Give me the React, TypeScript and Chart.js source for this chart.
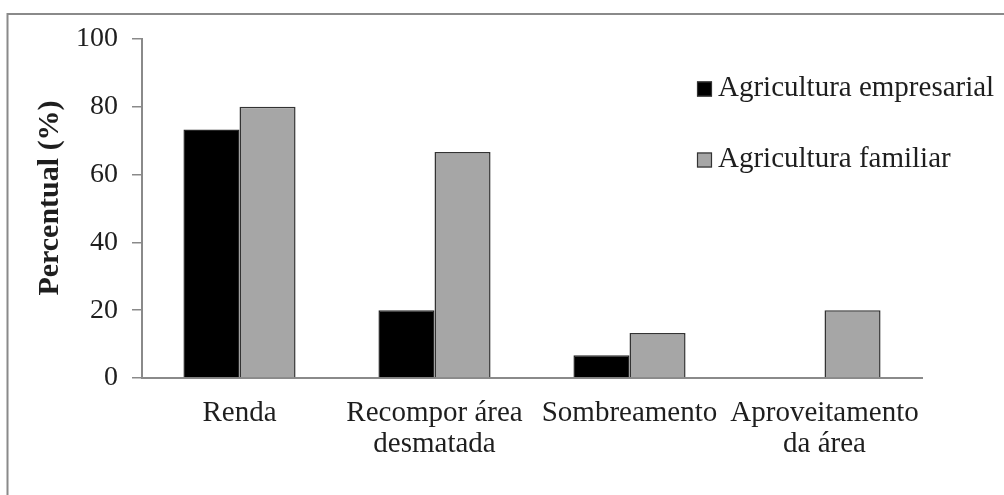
import React, { useEffect, useRef } from "react";
import { Chart, registerables } from "chart.js";

Chart.register(...registerables);

const categories: string[][] = [
  ["Renda"],
  ["Recompor área", "desmatada"],
  ["Sombreamento"],
  ["Aproveitamento", "da área"],
];
const empresarial: number[] = [73.3, 20, 6.7, 0];
const familiar: number[] = [80, 66.7, 13.3, 20];
const seriesNames: string[] = ["Agricultura empresarial", "Agricultura familiar"];
const yTicks: number[] = [0, 20, 40, 60, 80, 100];
const yTitle = "Percentual (%)";

const FONT = "'Liberation Serif', 'Times New Roman', serif";

const framePlugin = {
  id: "frame",
  beforeDraw(chart: any) {
    const ctx = chart.ctx;
    ctx.save();
    ctx.fillStyle = "#ffffff";
    ctx.fillRect(0, 0, chart.width, chart.height);
    ctx.strokeStyle = "#8a8a8a";
    ctx.lineWidth = 2;
    ctx.beginPath();
    ctx.moveTo(7.5, chart.height);
    ctx.lineTo(7.5, 14);
    ctx.lineTo(chart.width, 14);
    ctx.stroke();
    ctx.restore();
  },
};

const yTitlePlugin = {
  id: "yTitle",
  afterDraw(chart: any) {
    const ctx = chart.ctx;
    ctx.save();
    ctx.translate(50.5, 198);
    ctx.rotate(-Math.PI / 2);
    ctx.fillStyle = "#1e1e1e";
    ctx.font = `bold 30px ${FONT}`;
    ctx.textAlign = "center";
    ctx.textBaseline = "middle";
    ctx.fillText(yTitle, 0, 0);
    ctx.restore();
  },
};

const legendPlugin = {
  id: "customLegend",
  afterDraw(chart: any) {
    const ctx = chart.ctx;
    ctx.save();
    chart.data.datasets.forEach((ds: any, i: number) => {
      const cy = 89 + i * 71;
      ctx.fillStyle = ds.backgroundColor;
      ctx.fillRect(697, cy - 7.5, 15, 15);
      ctx.strokeStyle = "#333333";
      ctx.lineWidth = 1.2;
      ctx.strokeRect(697.5, cy - 7, 14, 14);
      ctx.fillStyle = "#1e1e1e";
      ctx.font = `29px ${FONT}`;
      ctx.textBaseline = "middle";
      ctx.textAlign = "left";
      ctx.fillText(ds.label, 718, cy - 1);
    });
    ctx.restore();
  },
};

export default function App() {
  const ref = useRef<HTMLCanvasElement | null>(null);
  useEffect(() => {
    if (!ref.current) return;
    const chart = new Chart(ref.current, {
      type: "bar",
      data: {
        labels: categories,
        datasets: [
          {
            label: seriesNames[0],
            data: empresarial,
            backgroundColor: "#000000",
            borderColor: "#262626",
            borderWidth: 1.5,
            barPercentage: 1,
            categoryPercentage: 0.575,
          },
          {
            label: seriesNames[1],
            data: familiar,
            backgroundColor: "#a6a6a6",
            borderColor: "#333333",
            borderWidth: 1.5,
            barPercentage: 1,
            categoryPercentage: 0.575,
          },
        ],
      },
      options: {
        animation: false,
        responsive: false,
        maintainAspectRatio: false,
        devicePixelRatio: 1,
        layout: { padding: { top: 39, right: 82, left: 0, bottom: 0 } },
        plugins: {
          legend: { display: false },
          tooltip: { enabled: false },
          title: { display: false },
        },
        scales: {
          x: {
            grid: { display: false },
            border: { display: true, color: "#8a8a8a", width: 2 },
            ticks: {
              color: "#1e1e1e",
              font: { family: FONT, size: 29, lineHeight: 1.07 },
              padding: 12,
              maxRotation: 0,
              autoSkip: false,
            },
            afterFit: (s: any) => {
              s.height = 117;
            },
          },
          y: {
            min: 0,
            max: 100,
            afterBuildTicks: (s: any) => {
              s.ticks = yTicks.map((v) => ({ value: v }));
            },
            grid: {
              drawOnChartArea: false,
              drawTicks: true,
              tickLength: 10,
              color: "#8a8a8a",
              lineWidth: 1.5,
            },
            border: { display: true, color: "#8a8a8a", width: 2 },
            ticks: {
              color: "#1e1e1e",
              font: { family: FONT, size: 28 },
              padding: 14,
            },
            title: { display: false, text: yTitle },
            afterFit: (s: any) => {
              s.width = 142;
            },
          },
        },
      },
      plugins: [framePlugin, legendPlugin, yTitlePlugin],
    });
    return () => chart.destroy();
  }, []);
  return (
    <div style={{ position: "fixed", left: 0, top: 0, width: 1004, height: 495, background: "#fff" }}>
      <canvas ref={ref} width={1004} height={495} style={{ width: 1004, height: 495, display: "block" }} />
    </div>
  );
}
